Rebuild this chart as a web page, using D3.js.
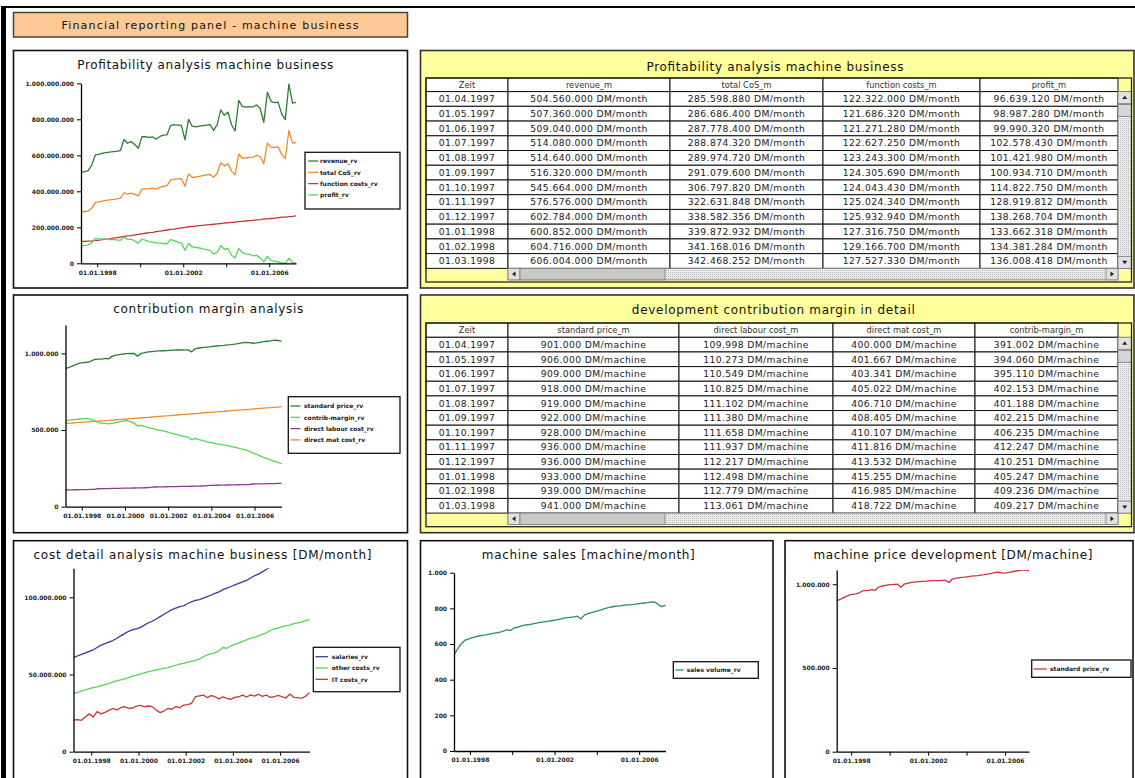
<!DOCTYPE html>
<html>
<head>
<meta charset="utf-8">
<script src="https://cdn.jsdelivr.net/npm/d3@7"></script>
<style>
  html, body { margin: 0; padding: 0; background: #fff; }
  svg { display: block; font-family: "DejaVu Sans", Verdana, sans-serif; }
</style>
</head>
<body>
<svg id="board" width="1135" height="778"></svg>
<script>
// ---------- time grid (every second month, Apr 1997 - Apr 2007) ----------
const periods = [
  "1997-04","1997-06","1997-08","1997-10","1997-12",
  "1998-02","1998-04","1998-06","1998-08","1998-10","1998-12",
  "1999-02","1999-04","1999-06","1999-08","1999-10","1999-12",
  "2000-02","2000-04","2000-06","2000-08","2000-10","2000-12",
  "2001-02","2001-04","2001-06","2001-08","2001-10","2001-12",
  "2002-02","2002-04","2002-06","2002-08","2002-10","2002-12",
  "2003-02","2003-04","2003-06","2003-08","2003-10","2003-12",
  "2004-02","2004-04","2004-06","2004-08","2004-10","2004-12",
  "2005-02","2005-04","2005-06","2005-08","2005-10","2005-12",
  "2006-02","2006-04","2006-06","2006-08","2006-10","2006-12",
  "2007-02","2007-04"
];

// ---------- profitability (million DM / month) ----------
const revenueRv = [
  504.56, 509.04, 514.64, 545.66, 602.78, 604.72, 612, 615, 618, 620,
  622, 628, 688, 667, 676, 660, 639, 704, 703, 700,
  702, 690, 705, 712, 714, 765, 770, 768, 766, 686,
  800, 762, 758, 762, 765, 768, 770, 738, 770, 852,
  822, 840, 770, 735, 905, 872, 868, 870, 868, 880,
  860, 783, 950, 900, 893, 895, 830, 798, 996, 890,
  894
];
const totalCosRv = [
  285.60, 287.78, 289.97, 306.80, 338.58, 341.17, 346, 349, 352, 355,
  358, 362, 392, 384, 390, 383, 375, 412, 414, 415,
  418, 412, 422, 428, 431, 462, 468, 469, 470, 428,
  497, 478, 479, 483, 487, 491, 494, 478, 500, 560,
  540, 553, 512, 492, 606, 585, 585, 589, 590, 600,
  592, 553, 668, 645, 643, 648, 605, 582, 738, 668,
  672
];
const functionCostsRv = [
  122.32, 121.27, 123.24, 124.04, 125.93, 129.17, 131, 134, 136, 140,
  143, 146, 149, 152, 154, 158, 161, 164, 167, 170,
  172, 176, 179, 182, 185, 188, 190, 194, 197, 199,
  203, 205, 207, 209, 211, 213, 215, 217, 219, 221,
  224, 225, 227, 229, 231, 233, 235, 237, 239, 241,
  243, 246, 247, 249, 251, 253, 256, 257, 259, 261,
  264
];
const profitRv = [
  96.64, 99.99, 101.42, 114.82, 138.27, 134.38, 136, 134, 132, 133,
  130, 128, 145, 132, 134, 124, 112, 135, 128, 120,
  118, 112, 112, 110, 108, 132, 126, 118, 112, 72,
  110, 92, 88, 85, 80, 76, 72, 52, 60, 98,
  78, 82, 45, 30, 82, 60, 52, 50, 42, 44,
  30, 8, 38, 16, 12, 8, 3, 0, 28, 4,
  2
];

// ---------- contribution margin (thousand DM / machine) ----------
const standardPriceRv = [
  901, 909, 919, 928, 936, 939, 942, 948, 960, 962,
  963, 968, 964, 982, 988, 992, 996, 998, 999, 1000,
  982, 1000, 1005, 1010, 1012, 1014, 1016, 1017, 1018, 1020,
  1021, 1022, 1022, 1023, 1023, 1010, 1030, 1035, 1038, 1041,
  1043, 1046, 1048, 1050, 1052, 1055, 1057, 1060, 1064, 1068,
  1072, 1070, 1066, 1068, 1072, 1076, 1079, 1082, 1086, 1084,
  1080
];
const contribMarginRv = [
  560, 565, 568, 570, 572, 574, 576, 570, 562, 552,
  545, 543, 540, 543, 548, 554, 558, 561, 555, 545,
  528, 530, 522, 515, 511, 505, 500, 494, 489, 482,
  476, 470, 463, 458, 454, 436, 446, 438, 432, 425,
  420, 416, 410, 406, 402, 398, 392, 388, 382, 376,
  370, 362, 350, 342, 332, 322, 314, 305, 296, 289,
  280
];
const directLabourCostRv = [
  109, 109.5, 110, 110.5, 111, 111.5, 112, 112.5, 113, 117,
  117.5, 118, 118.5, 119, 119.5, 120, 120.5, 121, 121.5, 122,
  122.5, 123, 123.5, 124, 128, 128.5, 129, 129.5, 130, 130.5,
  131, 131.5, 132, 132.5, 133, 133.5, 134, 134.5, 135, 135.5,
  139, 139.5, 140, 140.5, 141, 141.5, 142, 142.5, 143, 143.5,
  144, 144.5, 148, 148.5, 149, 149.5, 150, 150.5, 151, 151.5,
  152
];
const directMatCostRv = [
  543, 545, 546, 548, 550, 551, 553, 555, 557, 558,
  560, 562, 563, 565, 567, 569, 570, 572, 574, 576,
  578, 580, 581, 583, 585, 587, 589, 591, 592, 594,
  596, 598, 600, 602, 603, 605, 607, 609, 611, 613,
  615, 617, 618, 620, 622, 624, 626, 628, 630, 631,
  633, 635, 637, 639, 641, 643, 645, 646, 648, 650,
  652
];

// ---------- cost detail (million DM / month) ----------
const salariesRv = [
  61, 62, 63, 64, 65, 66, 67.5, 69, 70, 71,
  72, 73.5, 75, 76.5, 78, 79, 79.5, 80.5, 82, 83.5,
  84.5, 86, 87.5, 89, 90.5, 92, 93, 94, 94.5, 96,
  97, 98, 98.5, 99.5, 100.5, 101.5, 102.5, 103.5, 105, 106,
  107, 108, 109, 110, 111, 112.5, 114, 115, 116.5, 118,
  119.5, 121, 122, 123.5, 125, 126, 127.5, 129, 130, 131,
  132
];
const otherCostsRv = [
  37.8, 38.5, 39.2, 40, 40.8, 41.5, 42, 42.8, 43.5, 44.2,
  45, 45.8, 46.5, 47.2, 48, 49, 49.5, 50.2, 51, 51.8,
  52.3, 53, 53.5, 54, 54.5, 55.2, 56, 56.8, 57.2, 58,
  58.5, 59.2, 60, 61.5, 62.8, 63.5, 64, 65.5, 67.5, 67,
  68.5, 69.5, 70.5, 71.5, 72.5, 73.5, 74, 75, 76, 77,
  78.5, 79.5, 80, 81, 81.5, 82, 83, 83.5, 84, 85,
  85.5
];
const itCostsRv = [
  20.5, 20.8, 20.3, 22.5, 24.5, 22.5, 26, 24.5, 25.5, 26.8,
  28, 27, 28.5, 29.2, 28, 28.3, 29.5, 30, 29, 29.6,
  29.2, 27, 25.3, 26.5, 28, 27.5, 29.2, 28.5, 30.2, 30.5,
  31.3, 35.6, 36.2, 36.7, 35, 36.4, 35.6, 34.2, 35.5, 34.6,
  33.9, 35.2, 35.6, 36.7, 35.4, 36.8, 36, 37.2, 35.8, 36.7,
  35.2, 35.6, 36.5, 35.6, 34.8, 37.4, 35.2, 35, 34.6, 36,
  38.2
];

// ---------- sales volume (machines / month) ----------
const salesVolumeRv = [
  538, 572, 600, 620, 628, 635, 640, 645, 648, 651,
  655, 660, 663, 666, 672, 680, 676, 690, 694, 700,
  706, 708, 712, 716, 720, 723, 726, 728, 732, 735,
  740, 744, 748, 750, 752, 756, 740, 762, 770, 776,
  782, 787, 793, 800, 806, 809, 812, 814, 817, 819,
  820, 822, 825, 828, 830, 832, 836, 835, 820, 810,
  818
];

// ---------- monthly tables ----------
const tableMonths = ["01.04.1997","01.05.1997","01.06.1997","01.07.1997","01.08.1997","01.09.1997",
                     "01.10.1997","01.11.1997","01.12.1997","01.01.1998","01.02.1998","01.03.1998"];
const revenueM = [504560000, 507360000, 509040000, 514080000, 514640000, 516320000,
                  545664000, 576576000, 602784000, 600852000, 604716000, 606004000];
const totalCosM = [285598880, 286686400, 287778400, 288874320, 289974720, 291079600,
                   306797820, 322631848, 338582356, 339872932, 341168016, 342468252];
const functionCostsM = [122322000, 121686320, 121271280, 122627250, 123243300, 124305690,
                        124043430, 125024340, 125932940, 127316750, 129166700, 127527330];
const profitM = [96639120, 98987280, 99990320, 102578430, 101421980, 100934710,
                 114822750, 128919812, 138268704, 133662318, 134381284, 136008418];
const standardPriceM = [901000, 906000, 909000, 918000, 919000, 922000,
                        928000, 936000, 936000, 933000, 939000, 941000];
const directLabourCostM = [109998, 110273, 110549, 110825, 111102, 111380,
                           111658, 111937, 112217, 112498, 112779, 113061];
const directMatCostM = [400000, 401667, 403341, 405022, 406710, 408405,
                        410107, 411816, 413532, 415255, 416985, 418722];
const contribMarginM = [391002, 394060, 395110, 402153, 401188, 402215,
                        406235, 412247, 410251, 405247, 409236, 409217];

const tickYears = [1998, 2000, 2002, 2004, 2006];

// ---------- helpers ----------
const svg = d3.select("#board");
const de = d3.formatLocale({ decimal: ",", thousands: ".", grouping: [3], currency: ["", ""] });
const fmtInt = de.format(",.0f");
const fmtDate = d3.timeFormat("%d.%m.%Y");
const parseMonth = d3.timeParse("%Y-%m");
const dates = periods.map(parseMonth);
const tStart = new Date(1997, 3, 1), tEnd = new Date(2007, 3, 1);

const C = {
  darkGreen: "#2f7d34", lightGreen: "#55d655", orange: "#ef8a2e", red: "#cc3434",
  purple: "#8c3c8c", blue: "#3a3aa8", teal: "#2e8a6c", priceRed: "#cc3340"
};

const defs = svg.append("defs");
const pat = defs.append("pattern").attr("id", "dots").attr("width", 2).attr("height", 2)
  .attr("patternUnits", "userSpaceOnUse");
pat.append("rect").attr("width", 2).attr("height", 2).attr("fill", "#ececec");
pat.append("rect").attr("width", 1).attr("height", 1).attr("fill", "#bdbdbd");

// background and window frame
svg.append("rect").attr("width", 1135).attr("height", 778).attr("fill", "#fff");
svg.append("rect").attr("x", 1).attr("y", 6).attr("width", 1134).attr("height", 2).attr("fill", "#000");
svg.append("rect").attr("x", 1).attr("y", 6).attr("width", 5).attr("height", 772).attr("fill", "#000");

// header box
svg.append("rect").attr("x", 13.5).attr("y", 12.5).attr("width", 394).attr("height", 24.5)
  .attr("fill", "#fdca97").attr("stroke", "#4d4036").attr("stroke-width", 1.5);
svg.append("text").attr("x", 210).attr("y", 29).attr("text-anchor", "middle")
  .attr("font-size", 11).attr("fill", "#111")
  .attr("textLength", 297).attr("lengthAdjust", "spacing")
  .text("Financial reporting panel - machine business");

function styleAxis(sel) {
  sel.select(".domain").attr("stroke", "#000").attr("stroke-width", 1.3);
  sel.selectAll(".tick line").attr("stroke", "#000").attr("stroke-width", 1);
  sel.selectAll(".tick text").attr("font-size", 6).attr("font-weight", "bold")
    .attr("fill", "#222").attr("font-family", "DejaVu Sans, sans-serif");
}

// ---------- line chart panel ----------
function drawChart(c) {
  const g = svg.append("g");
  const [bx0, by0, bx1, by1] = c.box;
  g.append("rect").attr("x", bx0).attr("y", by0).attr("width", bx1 - bx0).attr("height", by1 - by0)
    .attr("fill", "#fff").attr("stroke", "#111").attr("stroke-width", 1.6);
  g.append("text").attr("x", c.title[1]).attr("y", c.title[2]).attr("text-anchor", "middle")
    .attr("font-size", 12).attr("fill", "#111")
    .attr("textLength", c.title[3]).attr("lengthAdjust", "spacing").text(c.title[0]);

  const x = d3.scaleTime().domain([tStart, tEnd]).range(c.xRange);
  const y = d3.scaleLinear().domain([0, c.yMax]).range(c.yRange);

  const cid = "clip" + c.id;
  defs.append("clipPath").attr("id", cid).append("rect")
    .attr("x", c.xRange[0]).attr("y", c.yRange[1])
    .attr("width", c.xRange[1] - c.xRange[0] + 3).attr("height", c.yRange[0] - c.yRange[1] + 1);

  const line = d3.line().x((d, i) => x(dates[i])).y(d => y(d));
  g.append("g").attr("clip-path", `url(#${cid})`)
    .selectAll("path").data(c.series).join("path")
    .attr("d", s => line(s.values)).attr("fill", "none")
    .attr("stroke", s => s.color).attr("stroke-width", 1.3).attr("stroke-linejoin", "round");

  const xAxis = d3.axisBottom(x)
    .tickValues(tickYears.map(yr => new Date(yr, 0, 1)))
    .tickSizeInner(4).tickSizeOuter(0).tickPadding(3)
    .tickFormat(d => c.xLabelYears.includes(d.getFullYear()) ? fmtDate(d) : "");
  g.append("g").attr("transform", `translate(0,${c.yRange[0]})`).call(xAxis).call(styleAxis);

  const yAxis = d3.axisLeft(y).tickValues(c.yTicks)
    .tickSizeInner(4).tickSizeOuter(0).tickPadding(3)
    .tickFormat(v => fmtInt(v * c.unit));
  g.append("g").attr("transform", `translate(${c.xRange[0]},0)`).call(yAxis).call(styleAxis);

  const L = c.legend;
  const lg = g.append("g");
  lg.append("rect").attr("x", L.box[0]).attr("y", L.box[1])
    .attr("width", L.box[2] - L.box[0]).attr("height", L.box[3] - L.box[1])
    .attr("fill", "#fff").attr("stroke", "#111").attr("stroke-width", 1.3);
  const items = lg.selectAll("g.item").data(c.series).join("g").attr("class", "item")
    .attr("transform", (s, i) => `translate(0,${L.y0 + i * L.dy})`);
  items.append("line").attr("x1", L.lineX[0]).attr("x2", L.lineX[1])
    .attr("stroke", s => s.color).attr("stroke-width", 1.3);
  items.append("text").attr("x", L.textX).attr("y", 2.2)
    .attr("font-size", 6).attr("font-weight", "bold").attr("fill", "#222")
    .text(s => s.name);
}

drawChart({
  id: 1, box: [13.5, 50.5, 407.5, 288],
  title: ["Profitability analysis machine business", 205.3, 69, 256],
  xRange: [81, 296], yRange: [263.3, 83.3], yMax: 1000, unit: 1e6,
  yTicks: [0, 200, 400, 600, 800, 1000], xLabelYears: [1998, 2002, 2006],
  series: [
    { name: "revenue_rv", values: revenueRv, color: C.darkGreen },
    { name: "total CoS_rv", values: totalCosRv, color: C.orange },
    { name: "function costs_rv", values: functionCostsRv, color: C.red },
    { name: "profit_rv", values: profitRv, color: C.lightGreen }
  ],
  legend: { box: [305, 152.3, 400, 209], y0: 161, dy: 11.3, lineX: [308.3, 318.3], textX: 320 }
});

drawChart({
  id: 2, box: [13.5, 295, 407.5, 532.7],
  title: ["contribution margin analysis", 208.3, 313.3, 190],
  xRange: [65.5, 281.5], yRange: [506.7, 325], yMax: 1185, unit: 1e3,
  yTicks: [0, 500, 1000], xLabelYears: [1998, 2000, 2002, 2004, 2006],
  series: [
    { name: "standard price_rv", values: standardPriceRv, color: C.darkGreen },
    { name: "contrib-margin_rv", values: contribMarginRv, color: C.lightGreen },
    { name: "direct labour cost_rv", values: directLabourCostRv, color: C.purple },
    { name: "direct mat cost_rv", values: directMatCostRv, color: C.orange }
  ],
  legend: { box: [288.3, 396.7, 400, 453.3], y0: 406, dy: 11.3, lineX: [290.5, 300.5], textX: 304 }
});

drawChart({
  id: 3, box: [13.5, 540.7, 407.5, 800],
  title: ["cost detail analysis machine business [DM/month]", 202.5, 559, 338],
  xRange: [73.5, 309.5], yRange: [751.7, 568.3], yMax: 118.8, unit: 1e6,
  yTicks: [0, 50, 100], xLabelYears: [1998, 2000, 2002, 2004, 2006],
  series: [
    { name: "salaries_rv", values: salariesRv, color: C.blue },
    { name: "other costs_rv", values: otherCostsRv, color: C.lightGreen },
    { name: "IT costs_rv", values: itCostsRv, color: C.red }
  ],
  legend: { box: [313.3, 647.3, 400, 691.7], y0: 656.7, dy: 11.3, lineX: [315.5, 328], textX: 331.7 }
});

drawChart({
  id: 4, box: [420.5, 540.7, 773, 800],
  title: ["machine sales [machine/month]", 588.3, 559, 213],
  xRange: [454, 665.5], yRange: [751, 572.7], yMax: 1000, unit: 1,
  yTicks: [0, 200, 400, 600, 800, 1000], xLabelYears: [1998, 2002, 2006],
  series: [
    { name: "sales volume_rv", values: salesVolumeRv, color: C.teal }
  ],
  legend: { box: [673.3, 661.7, 758.3, 678.3], y0: 670, dy: 11.3, lineX: [675.5, 683.5], textX: 686.7 }
});

drawChart({
  id: 5, box: [785, 540.7, 1133, 800],
  title: ["machine price development [DM/machine]", 953, 559, 279],
  xRange: [836.7, 1029], yRange: [751.7, 570], yMax: 1085, unit: 1e3,
  yTicks: [0, 500, 1000], xLabelYears: [1998, 2002, 2006],
  series: [
    { name: "standard price_rv", values: standardPriceRv, color: C.priceRed }
  ],
  legend: { box: [1031.7, 660, 1131, 677.3], y0: 669, dy: 11.3, lineX: [1033.5, 1046.7], textX: 1050 }
});

// ---------- table panel ----------
function drawTable(t) {
  const g = svg.append("g");
  const [ox0, oy0, ox1, oy1] = t.outer;
  g.append("rect").attr("x", ox0).attr("y", oy0).attr("width", ox1 - ox0).attr("height", oy1 - oy0)
    .attr("fill", "#ffff9e").attr("stroke", "#333").attr("stroke-width", 1.6);
  g.append("text").attr("x", t.title[1]).attr("y", t.title[2]).attr("text-anchor", "middle")
    .attr("font-size", 12).attr("fill", "#111")
    .attr("textLength", t.title[3]).attr("lengthAdjust", "spacing").text(t.title[0]);

  const cols = t.cols;
  const rowsTop = t.headerTop + t.headerH;
  const rowsBottom = rowsTop + t.rows.length * t.rowH;
  const colIdx = d3.range(cols.length - 1);

  // header
  const hg = g.append("g");
  hg.selectAll("rect").data(colIdx).join("rect")
    .attr("x", j => cols[j]).attr("y", t.headerTop)
    .attr("width", j => cols[j + 1] - cols[j]).attr("height", t.headerH)
    .attr("fill", "#fff").attr("stroke", "#111").attr("stroke-width", 1);
  hg.selectAll("text").data(t.headers).join("text")
    .attr("x", (h, j) => (cols[j] + cols[j + 1]) / 2).attr("y", t.headerTop + t.headerH / 2 + 3)
    .attr("text-anchor", "middle").attr("font-size", 8.3).attr("fill", "#333")
    .text(h => h);

  // body
  const rg = g.selectAll("g.row").data(t.rows).join("g").attr("class", "row")
    .attr("transform", (r, i) => `translate(0,${rowsTop + i * t.rowH})`);
  rg.selectAll("rect").data(r => r.map((v, j) => j)).join("rect")
    .attr("x", j => cols[j]).attr("y", 0)
    .attr("width", j => cols[j + 1] - cols[j]).attr("height", t.rowH)
    .attr("fill", "#fff").attr("stroke", "#111").attr("stroke-width", 1);
  rg.selectAll("text").data(r => r).join("text")
    .attr("x", (v, j) => (cols[j] + cols[j + 1]) / 2).attr("y", t.rowH / 2 + 3.3)
    .attr("text-anchor", "middle").attr("font-size", 9.2).attr("letter-spacing", 0.4)
    .attr("fill", "#1a1a1a").text(v => v);

  // horizontal scrollbar
  const sx0 = cols[1], sx1 = cols[cols.length - 1];
  const sy0 = rowsBottom, sh = 11.5;
  const sb = g.append("g").attr("stroke", "#7a7a7a").attr("stroke-width", 0.8);
  sb.append("rect").attr("x", sx0).attr("y", sy0).attr("width", sx1 - sx0).attr("height", sh).attr("fill", "url(#dots)");
  sb.append("rect").attr("x", sx0).attr("y", sy0).attr("width", 12).attr("height", sh).attr("fill", "#e2e2e2");
  sb.append("rect").attr("x", sx0 + 12).attr("y", sy0).attr("width", t.thumbEnd - sx0 - 12).attr("height", sh).attr("fill", "#c9c9c9");
  sb.append("rect").attr("x", sx1 - 12).attr("y", sy0).attr("width", 12).attr("height", sh).attr("fill", "#e2e2e2");
  sb.append("path").attr("stroke", "none").attr("fill", "#222")
    .attr("d", `M${sx0 + 4},${sy0 + sh / 2} L${sx0 + 7.5},${sy0 + sh / 2 - 2.5} L${sx0 + 7.5},${sy0 + sh / 2 + 2.5}Z`);
  sb.append("path").attr("stroke", "none").attr("fill", "#222")
    .attr("d", `M${sx1 - 4},${sy0 + sh / 2} L${sx1 - 7.5},${sy0 + sh / 2 - 2.5} L${sx1 - 7.5},${sy0 + sh / 2 + 2.5}Z`);

  // vertical scrollbar
  const vx0 = sx1, vx1 = t.inner[2];
  const vb = g.append("g").attr("stroke", "#7a7a7a").attr("stroke-width", 0.8);
  vb.append("rect").attr("x", vx0).attr("y", rowsTop).attr("width", vx1 - vx0).attr("height", rowsBottom - rowsTop).attr("fill", "url(#dots)");
  vb.append("rect").attr("x", vx0).attr("y", rowsTop).attr("width", vx1 - vx0).attr("height", 12).attr("fill", "#e2e2e2");
  vb.append("rect").attr("x", vx0).attr("y", rowsTop + 13).attr("width", vx1 - vx0).attr("height", 12).attr("fill", "#d6d6d6");
  vb.append("rect").attr("x", vx0).attr("y", rowsBottom - 12).attr("width", vx1 - vx0).attr("height", 12).attr("fill", "#e2e2e2");
  const vc = (vx0 + vx1) / 2;
  vb.append("path").attr("stroke", "none").attr("fill", "#222")
    .attr("d", `M${vc},${rowsTop + 4} L${vc - 2.5},${rowsTop + 7.5} L${vc + 2.5},${rowsTop + 7.5}Z`);
  vb.append("path").attr("stroke", "none").attr("fill", "#222")
    .attr("d", `M${vc},${rowsBottom - 4} L${vc - 2.5},${rowsBottom - 7.5} L${vc + 2.5},${rowsBottom - 7.5}Z`);

  // inner frame
  const [ix0, iy0, ix1, iy1] = t.inner;
  g.append("rect").attr("x", ix0).attr("y", iy0).attr("width", ix1 - ix0).attr("height", iy1 - iy0)
    .attr("fill", "none").attr("stroke", "#222").attr("stroke-width", 1.3);
}

const monthUnit = " DM/month", machineUnit = " DM/machine";

drawTable({
  outer: [420.5, 50.5, 1134, 288],
  inner: [426, 78, 1131.5, 282],
  title: ["Profitability analysis machine business", 775, 71, 257],
  cols: [426, 508, 670, 823, 980, 1118],
  headers: ["Zeit", "revenue_m", "total CoS_m", "function costs_m", "profit_m"],
  headerTop: 78, headerH: 13.6, rowH: 14.73, thumbEnd: 665,
  rows: tableMonths.map((m, i) => [
    m,
    fmtInt(revenueM[i]) + monthUnit,
    fmtInt(totalCosM[i]) + monthUnit,
    fmtInt(functionCostsM[i]) + monthUnit,
    fmtInt(profitM[i]) + monthUnit
  ])
});

drawTable({
  outer: [420.5, 295, 1134, 532.7],
  inner: [426, 323, 1131.5, 526.7],
  title: ["development contribution margin in detail", 773.3, 314, 283],
  cols: [426, 508, 679, 833, 975, 1118],
  headers: ["Zeit", "standard price_m", "direct labour cost_m", "direct mat cost_m", "contrib-margin_m"],
  headerTop: 323, headerH: 14.3, rowH: 14.65, thumbEnd: 665,
  rows: tableMonths.map((m, i) => [
    m,
    fmtInt(standardPriceM[i]) + machineUnit,
    fmtInt(directLabourCostM[i]) + machineUnit,
    fmtInt(directMatCostM[i]) + machineUnit,
    fmtInt(contribMarginM[i]) + machineUnit
  ])
});
</script>
</body>
</html>
